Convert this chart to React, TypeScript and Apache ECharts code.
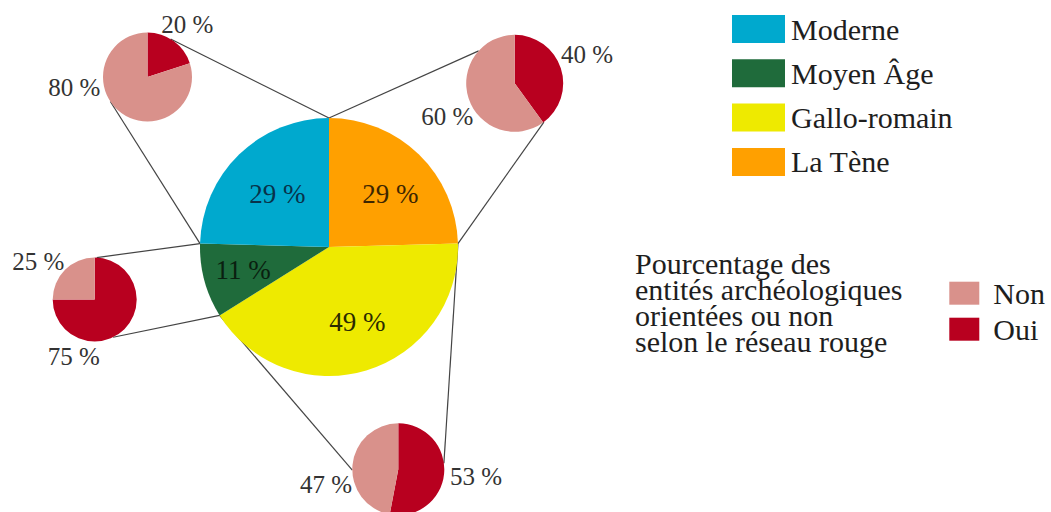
import React, { useEffect, useRef } from 'react';
import * as echarts from 'echarts';

// ---- data ----
const periods = ['La Tène', 'Gallo-romain', 'Moyen Âge', 'Moderne']; // clockwise from top
const periodValues = [29, 49, 11, 29];
const legendPeriods = ['Moderne', 'Moyen Âge', 'Gallo-romain', 'La Tène'];
const orientation = ['Oui', 'Non'];
const ouiPercent = [40, 53, 75, 20]; // same order as periods
const nonPercent = [60, 47, 25, 80];
const legendOrientation = ['Non', 'Oui'];
const noteLines = ['Pourcentage des', 'entités archéologiques', 'orientées ou non', 'selon le réseau rouge'];

// ---- styles / layout ----
const FONT = "'Liberation Serif', 'Times New Roman', serif";
const PERIOD_COLORS = ['#FFA000', '#EEEA00', '#1F6B3B', '#00A9CE'];
const PERIOD_TEXT = ['#3d2600', '#2a2a00', '#0a1f10', '#08324a'];
const ORIENT_COLORS = ['#B8001F', '#D9918B'];
const MAIN = { cx: 329, cy: 247, r: 129 };
const MAIN_LABEL = [
  { da: 5, d: 81 },
  { da: -4, d: 80 },
  { da: 0, d: 89 },
  { da: 0, d: 74 },
];
const SMALL = [
  { cx: 514.7, cy: 83.3, r: 48.5, startEnd: 312, endEnd: 143, labels: [{ a: 68, d: 78 }, { a: 244, d: 75 }] },
  { cx: 398.3, cy: 469.3, r: 46, startEnd: 82.5, endEnd: 269, labels: [{ a: 95, d: 78 }, { a: 258, d: 74 }] },
  { cx: 94.7, cy: 299.5, r: 42, startEnd: 154, endEnd: 2.7, labels: [{ a: 200, d: 61 }, { a: 304, d: 68 }] },
  { cx: 147.5, cy: 77, r: 44.5, startEnd: 236.6, endEnd: 31.3, labels: [{ a: 37, d: 66 }, { a: 262, d: 74 }] },
];

function polar(cx: number, cy: number, r: number, deg: number): [number, number] {
  const rad = (deg * Math.PI) / 180;
  return [cx + r * Math.sin(rad), cy - r * Math.cos(rad)];
}

export default function App() {
  const ref = useRef<HTMLDivElement>(null);
  useEffect(() => {
    if (!ref.current) return;
    const chart = echarts.init(ref.current, undefined, { renderer: 'svg' });
    const total = periodValues.reduce((a, b) => a + b, 0);
    const starts: number[] = [];
    const ends: number[] = [];
    let acc = 0;
    periodValues.forEach((v) => {
      starts.push((acc / total) * 360);
      acc += v;
      ends.push((acc / total) * 360);
    });

    const graphics: any[] = [];
    periods.forEach((_, i) => {
      const s = SMALL[i];
      const p1 = polar(MAIN.cx, MAIN.cy, MAIN.r, starts[i]);
      const q1 = polar(s.cx, s.cy, s.r, s.startEnd);
      const p2 = polar(MAIN.cx, MAIN.cy, MAIN.r, ends[i]);
      const q2 = polar(s.cx, s.cy, s.r, s.endEnd);
      [[p1, q1], [p2, q2]].forEach(([a, b]) => {
        graphics.push({
          type: 'line',
          z: 1,
          silent: true,
          shape: { x1: a[0], y1: a[1], x2: b[0], y2: b[1] },
          style: { stroke: '#444444', lineWidth: 1.2 },
        });
      });
    });
    graphics.push({
      type: 'text',
      x: 635,
      y: 250,
      silent: true,
      style: {
        text: noteLines.join('\n'),
        fontSize: 30,
        fontFamily: FONT,
        lineHeight: 26,
        fill: '#1e1e1e',
      },
    });

    const mainSeries: any = {
      type: 'pie',
      center: [MAIN.cx, MAIN.cy],
      radius: MAIN.r,
      startAngle: 90,
      clockwise: true,
      avoidLabelOverlap: false,
      silent: true,
      z: 2,
      emphasis: { disabled: true },
      labelLine: { show: false },
      label: {
        show: true,
        position: 'inside',
        formatter: '{c} %',
        fontSize: 27,
        fontFamily: FONT,
      },
      labelLayout: (p: any) => {
        const i = p.dataIndex;
        const mid = (starts[i] + ends[i]) / 2 + MAIN_LABEL[i].da;
        const [x, y] = polar(MAIN.cx, MAIN.cy, MAIN_LABEL[i].d, mid);
        return { x, y, align: 'center', verticalAlign: 'middle' };
      },
      data: periods.map((name, i) => ({
        name,
        value: periodValues[i],
        itemStyle: { color: PERIOD_COLORS[i] },
        label: { color: PERIOD_TEXT[i] },
      })),
    };

    const smallSeries = periods.map((_, i) => {
      const s = SMALL[i];
      const vals = [ouiPercent[i], nonPercent[i]];
      return {
        type: 'pie',
        center: [s.cx, s.cy],
        radius: s.r,
        startAngle: 90,
        clockwise: true,
        avoidLabelOverlap: false,
        silent: true,
        z: 2,
        emphasis: { disabled: true },
        labelLine: { show: false },
        label: {
          show: true,
          position: 'inside',
          formatter: '{c} %',
          fontSize: 25,
          fontFamily: FONT,
          color: '#333333',
        },
        labelLayout: (p: any) => {
          const L = s.labels[p.dataIndex];
          const [x, y] = polar(s.cx, s.cy, L.d, L.a);
          return { x, y, align: 'center', verticalAlign: 'middle' };
        },
        data: orientation.map((name, k) => ({
          name,
          value: vals[k],
          itemStyle: { color: ORIENT_COLORS[k] },
        })),
      };
    });

    chart.setOption({
      animation: false,
      backgroundColor: '#ffffff',
      legend: [
        {
          orient: 'vertical',
          left: 732,
          top: 11.5,
          padding: 0,
          itemWidth: 53,
          itemHeight: 28,
          itemGap: 9.3,
          icon: 'rect',
          selectedMode: false,
          data: legendPeriods,
          textStyle: {
            fontSize: 30,
            fontFamily: FONT,
            color: '#1e1e1e',
            lineHeight: 28,
            padding: [7, 0, 0, 1],
          },
        },
        {
          orient: 'vertical',
          left: 949.3,
          top: 278.2,
          padding: 0,
          itemWidth: 30,
          itemHeight: 23,
          itemGap: 6,
          icon: 'rect',
          selectedMode: false,
          data: legendOrientation,
          textStyle: {
            fontSize: 30,
            fontFamily: FONT,
            color: '#1e1e1e',
            lineHeight: 23,
            padding: [0, 0, 0, 9],
          },
        },
      ],
      graphic: { elements: graphics },
      series: [mainSeries, ...smallSeries],
    });
    return () => chart.dispose();
  }, []);
  return (
    <div
      ref={ref}
      style={{ position: 'fixed', left: 0, top: 0, width: 1051, height: 512 }}
    />
  );
}
